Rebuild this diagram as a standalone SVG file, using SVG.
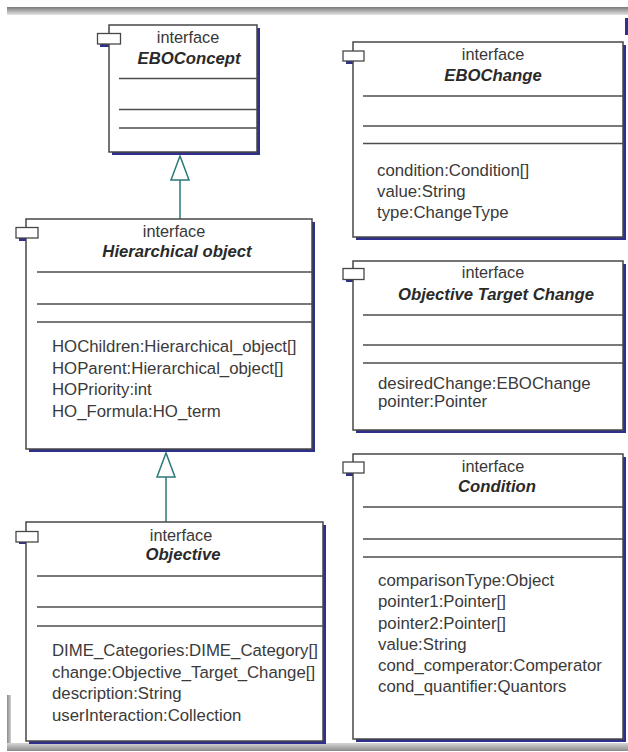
<svg xmlns="http://www.w3.org/2000/svg" width="628" height="752" viewBox="0 0 628 752">
<defs>
<linearGradient id="gTop" x1="0" y1="0" x2="0" y2="1">
<stop offset="0" stop-color="#7a7a7a"/>
<stop offset="1" stop-color="#e4e4e4"/>
</linearGradient>
<linearGradient id="gBot" x1="0" y1="0" x2="0" y2="1">
<stop offset="0" stop-color="#d6d6d6"/>
<stop offset="1" stop-color="#8a8a8a"/>
</linearGradient>
<linearGradient id="gLeft" x1="0" y1="0" x2="1" y2="0">
<stop offset="0" stop-color="#8a8a8a"/>
<stop offset="1" stop-color="#d0d0d0"/>
</linearGradient>
</defs>
<style>
.sh{fill:#2f2f8c}
.box{fill:#fff;stroke:#474747;stroke-width:1.5}
.tab{fill:#fff;stroke:#474747;stroke-width:1.3}
.sep{stroke:#4d4d4d;stroke-width:1.5}
.st{font-family:"Liberation Sans",Arial,sans-serif;font-size:16.3px;fill:#383838;text-anchor:middle}
.ti{font-family:"Liberation Sans",Arial,sans-serif;font-size:16.7px;font-weight:bold;font-style:italic;fill:#2a2a2a;text-anchor:middle}
.at{font-family:"Liberation Sans",Arial,sans-serif;font-size:16.8px;fill:#3a3a3a}
.conn{stroke:#2b7a78;stroke-width:1.5;fill:none}
.head{stroke:#2b7a78;stroke-width:1.5;fill:#fff}
</style>
<rect x="7" y="7" width="621" height="8" fill="url(#gTop)"/>
<rect x="625" y="18" width="3" height="17" fill="#2f2f8c"/>
<rect x="7" y="695" width="4" height="55" fill="url(#gLeft)"/>
<rect x="7" y="743" width="621" height="8" fill="url(#gBot)"/>

<g id="connectors">
<line class="conn" x1="180" y1="180" x2="180" y2="219"/>
<polygon class="head" points="180,156 171,180 189,180"/>
<line class="conn" x1="166" y1="477" x2="166" y2="522"/>
<polygon class="head" points="166,453 157,477 175,477"/>
</g>

<g id="EBOConcept">
<rect class="sh" x="100" y="36" width="22" height="11"/>
<rect class="sh" x="112" y="28" width="148" height="127"/>
<rect class="box" x="109" y="25" width="148" height="127"/>
<rect class="tab" x="97.5" y="33.5" width="23" height="10.5"/>
<text class="st" x="188" y="43">interface</text>
<text class="ti" x="189" y="64">EBOConcept</text>
<line class="sep" x1="119" y1="78.5" x2="257" y2="78.5"/>
<line class="sep" x1="119" y1="109.5" x2="257" y2="109.5"/>
<line class="sep" x1="119" y1="128" x2="257" y2="128"/>
</g>

<g id="EBOChange">
<rect class="sh" x="346" y="53" width="22" height="11"/>
<rect class="sh" x="356" y="45" width="270" height="195"/>
<rect class="box" x="353" y="42" width="270" height="195"/>
<rect class="tab" x="343" y="51" width="21" height="10"/>
<text class="st" x="493" y="60">interface</text>
<text class="ti" x="493" y="81">EBOChange</text>
<line class="sep" x1="363" y1="96" x2="623" y2="96"/>
<line class="sep" x1="363" y1="126" x2="623" y2="126"/>
<line class="sep" x1="363" y1="143.5" x2="623" y2="143.5"/>
<text class="at" x="377" y="176">condition:Condition[]</text>
<text class="at" x="377" y="197">value:String</text>
<text class="at" x="377" y="218">type:ChangeType</text>
</g>

<g id="HierarchicalObject">
<rect class="sh" x="19" y="230" width="22" height="11"/>
<rect class="sh" x="29" y="222" width="286" height="230"/>
<rect class="box" x="26" y="219" width="286" height="230"/>
<rect class="tab" x="16" y="227.5" width="22" height="10.5"/>
<text class="st" x="174" y="237">interface</text>
<text class="ti" x="177" y="257">Hierarchical object</text>
<line class="sep" x1="37" y1="272" x2="312" y2="272"/>
<line class="sep" x1="37" y1="304" x2="312" y2="304"/>
<line class="sep" x1="37" y1="322" x2="312" y2="322"/>
<text class="at" x="52" y="352">HOChildren:Hierarchical_object[]</text>
<text class="at" x="52" y="373.5">HOParent:Hierarchical_object[]</text>
<text class="at" x="52" y="395">HOPriority:int</text>
<text class="at" x="52" y="417">HO_Formula:HO_term</text>
</g>

<g id="ObjectiveTargetChange">
<rect class="sh" x="346" y="271" width="22" height="11"/>
<rect class="sh" x="356" y="264" width="270" height="169"/>
<rect class="box" x="353" y="261" width="270" height="169"/>
<rect class="tab" x="343" y="268.5" width="21" height="11"/>
<text class="st" x="493" y="278">interface</text>
<text class="ti" x="496" y="300">Objective Target Change</text>
<line class="sep" x1="363" y1="315" x2="623" y2="315"/>
<line class="sep" x1="363" y1="345" x2="623" y2="345"/>
<line class="sep" x1="363" y1="363" x2="623" y2="363"/>
<text class="at" x="378" y="389">desiredChange:EBOChange</text>
<text class="at" x="378" y="407">pointer:Pointer</text>
</g>

<g id="Objective">
<rect class="sh" x="19" y="533" width="22" height="11"/>
<rect class="sh" x="29" y="525" width="297" height="219"/>
<rect class="box" x="26" y="522" width="297" height="219"/>
<rect class="tab" x="16" y="531.5" width="22" height="10.5"/>
<text class="st" x="181" y="541">interface</text>
<text class="ti" x="183" y="560">Objective</text>
<line class="sep" x1="37" y1="576" x2="323" y2="576"/>
<line class="sep" x1="37" y1="607" x2="323" y2="607"/>
<line class="sep" x1="37" y1="626" x2="323" y2="626"/>
<text class="at" x="52" y="656">DIME_Categories:DIME_Category[]</text>
<text class="at" x="52" y="677.5">change:Objective_Target_Change[]</text>
<text class="at" x="52" y="699">description:String</text>
<text class="at" x="52" y="720.5">userInteraction:Collection</text>
</g>

<g id="Condition">
<rect class="sh" x="346" y="465" width="22" height="11"/>
<rect class="sh" x="356" y="457" width="270" height="285"/>
<rect class="box" x="353" y="454" width="270" height="285"/>
<rect class="tab" x="343" y="462" width="21" height="11"/>
<text class="st" x="493" y="472">interface</text>
<text class="ti" x="497" y="492">Condition</text>
<line class="sep" x1="363" y1="507" x2="623" y2="507"/>
<line class="sep" x1="363" y1="539" x2="623" y2="539"/>
<line class="sep" x1="363" y1="557" x2="623" y2="557"/>
<text class="at" x="378" y="586">comparisonType:Object</text>
<text class="at" x="378" y="607">pointer1:Pointer[]</text>
<text class="at" x="378" y="628.5">pointer2:Pointer[]</text>
<text class="at" x="378" y="650">value:String</text>
<text class="at" x="378" y="671">cond_comperator:Comperator</text>
<text class="at" x="378" y="692">cond_quantifier:Quantors</text>
</g>
</svg>
